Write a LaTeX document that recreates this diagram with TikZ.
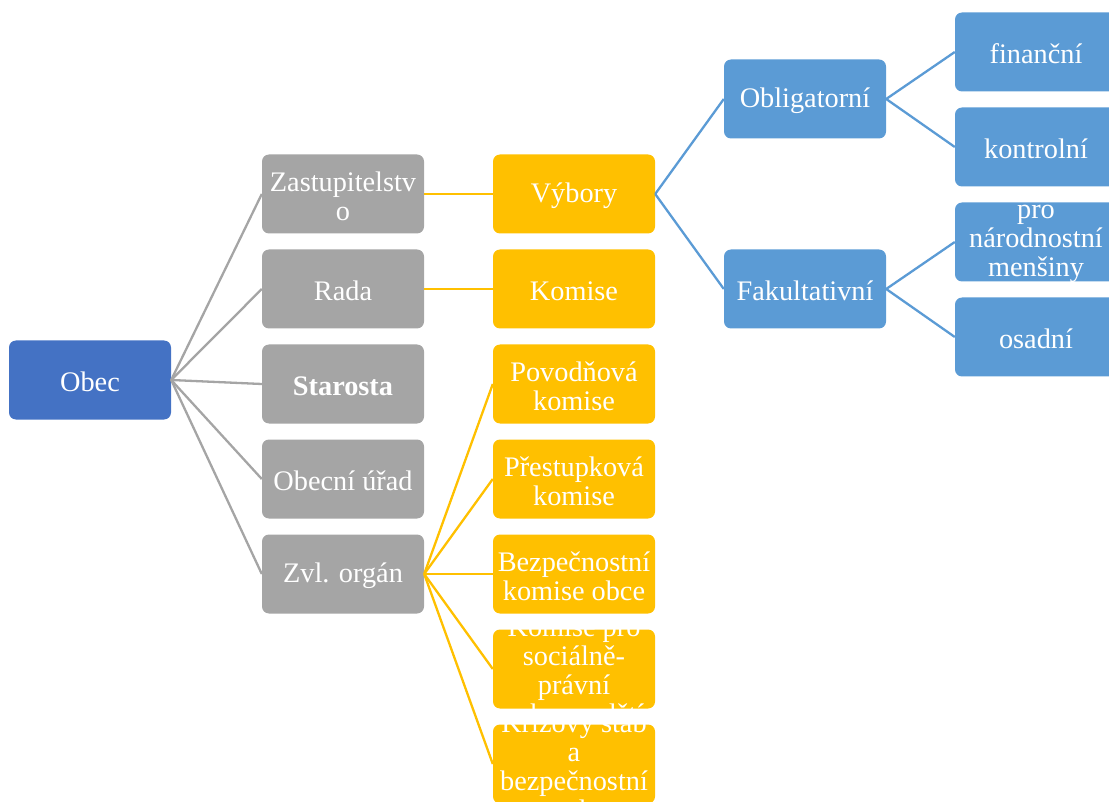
\documentclass[tikz,border=0pt]{standalone}
\usepackage{fontspec}
\setmainfont{Liberation Serif}
\definecolor{cObec}{HTML}{4472C4}
\definecolor{cGray}{HTML}{A5A5A5}
\definecolor{cYel}{HTML}{FFC000}
\definecolor{cBlue}{HTML}{5B9BD5}
\tikzset{
  box/.style={rounded corners=7pt, minimum width=162pt, minimum height=79pt, inner sep=0pt, draw=none},
  obecbox/.style={box, fill=cObec},
  graybox/.style={box, fill=cGray},
  yelbox/.style={box, fill=cYel},
  bluebox/.style={box, fill=cBlue},
  txt/.style={text=white, align=center, inner sep=0pt, yshift=-2pt, font=\fontsize{28.3}{29}\selectfont},
  grayline/.style={draw=cGray, line width=2.3pt},
  yelline/.style={draw=cYel, line width=2.3pt},
  blueline/.style={draw=cBlue, line width=2.3pt}
}
\begin{document}
\begin{tikzpicture}[x=1pt,y=-1pt]
\useasboundingbox (0,0) rectangle (1109,802);
\clip (0,0) rectangle (1109,802);
% boxes
\node[obecbox] (obec) at (90,380) {};
\node[graybox] (zast) at (343,194) {};
\node[graybox] (rada) at (343,289) {};
\node[graybox] (star) at (343,384) {};
\node[graybox] (urad) at (343,479) {};
\node[graybox] (zvl) at (343,574) {};
\node[yelbox] (vyb) at (574,194) {};
\node[yelbox] (kom) at (574,289) {};
\node[yelbox] (pov) at (574,384) {};
\node[yelbox] (pre) at (574,479) {};
\node[yelbox] (bez) at (574,574) {};
\node[yelbox] (soc) at (574,669) {};
\node[yelbox] (kriz) at (574,764) {};
\node[bluebox] (obl) at (805,99) {};
\node[bluebox] (fak) at (805,289) {};
\node[bluebox] (fin) at (1036,52) {};
\node[bluebox] (kon) at (1036,147) {};
\node[bluebox] (nar) at (1036,242) {};
\node[bluebox] (osa) at (1036,337) {};
% connectors
\foreach \c in {zast,rada,star,urad,zvl} \draw[grayline] (obec.east) -- (\c.west);
\draw[yelline] (zast.east) -- (vyb.west);
\draw[yelline] (rada.east) -- (kom.west);
\foreach \c in {pov,pre,bez,soc,kriz} \draw[yelline] (zvl.east) -- (\c.west);
\draw[blueline] (vyb.east) -- (obl.west);
\draw[blueline] (vyb.east) -- (fak.west);
\draw[blueline] (obl.east) -- (fin.west);
\draw[blueline] (obl.east) -- (kon.west);
\draw[blueline] (fak.east) -- (nar.west);
\draw[blueline] (fak.east) -- (osa.west);
% texts
\node[txt] (tobec) at (obec) {Obec};
\node[txt] (tzast) at (zast) {Zastupitelstv\\o};
\node[txt] (trada) at (rada) {Rada};
\node[txt] (tstar) at (star) {\textbf{Starosta}};
\node[txt] (turad) at (urad) {Obecní úřad};
\node[txt] (tzvl) at (zvl) {Zvl. orgán};
\node[txt] (tvyb) at (vyb) {Výbory};
\node[txt] (tkom) at (kom) {Komise};
\node[txt] (tpov) at (pov) {Povodňová\\komise};
\node[txt] (tpre) at (pre) {Přestupková\\komise};
\node[txt] (tbez) at (bez) {Bezpečnostní\\komise obce};
\node[txt] (tsoc) at (soc) {Komise pro\\sociálně-\\právní\\ochranu dětí};
\node[txt] (tkriz) at (kriz) {Krizový štáb\\a\\bezpečnostní\\rada};
\node[txt] (tobl) at (obl) {Obligatorní};
\node[txt] (tfak) at (fak) {Fakultativní};
\node[txt] (tfin) at (fin) {finanční};
\node[txt] (tkon) at (kon) {kontrolní};
\node[txt] (tnar) at (nar) {pro\\národnostní\\menšiny};
\node[txt] (tosa) at (osa) {osadní};
\end{tikzpicture}
\end{document}
